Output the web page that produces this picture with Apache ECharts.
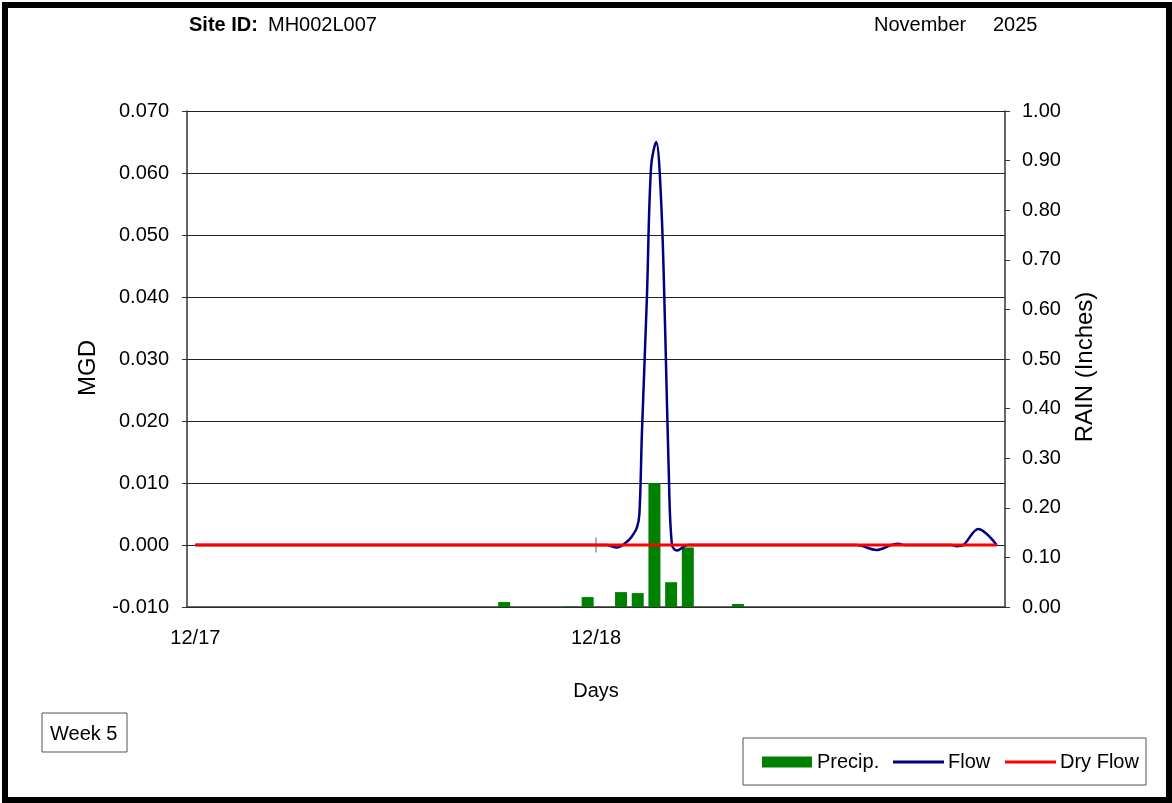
<!DOCTYPE html>
<html>
<head>
<meta charset="utf-8">
<title>MH002L007 - Week 5</title>
<script src="https://cdn.jsdelivr.net/npm/echarts@6/dist/echarts.min.js"></script>
<style>
  html, body { margin: 0; padding: 0; background: #fff; }
  #chart { width: 1172px; height: 803px; }
</style>
</head>
<body>
<div id="chart"></div>
<script>
// Hourly rainfall (inches), positioned by hour from 12/17 00:00
const rainHours  = [18.5, 22.5, 23.5, 25.5, 26.5, 27.5, 28.5, 29.5, 32.5];
const rainInches = [0.01, 0.001, 0.02, 0.03, 0.028, 0.25, 0.05, 0.12, 0.006];

// Measured flow (MGD) by hour from 12/17 00:00
const flowHours = [0, 24.6, 25.25, 25.8, 26.1, 26.45, 26.6, 26.75, 27.05, 27.3, 27.6,
                   27.9, 28.15, 28.35, 28.55, 28.85, 29.3, 29.5, 39.6, 40.8, 41.7,
                   42.1, 42.5, 45.3, 45.6, 46.0, 46.9, 48];
const flowMGD   = [0, 0, -0.0004, 0.0004, 0.0012, 0.0028, 0.005, 0.018, 0.040, 0.061, 0.065,
                   0.0556, 0.034, 0.0126, 0.0, -0.0009, -0.0002, 0, 0, -0.0008, 0,
                   0.0002, 0, 0, -0.0002, 0, 0.0026, 0];

// Dry-weather baseline flow (MGD)
const dryHours = [0, 48];
const dryMGD   = [0, 0];

// Day labels on the time axis
const dayTickHours  = [0, 24];
const dayTickLabels = ['12/17', '12/18'];

const FONT = '"Liberation Sans", Arial, sans-serif';
const zip = (xs, ys) => xs.map((x, i) => [x, ys[i]]);

const chart = echarts.init(document.getElementById('chart'), null, { renderer: 'canvas' });

// Legend key drawn as plain shapes: a bar swatch and two line swatches
const legendY = 762;
const legendKeys = [
  { kind: 'bar',  x: 762,  label: 'Precip.',  color: '#008000' },
  { kind: 'line', x: 893,  label: 'Flow',     color: '#000080' },
  { kind: 'line', x: 1005, label: 'Dry Flow', color: '#ff0000' }
];
const legendGraphics = [];
legendKeys.forEach((k) => {
  if (k.kind === 'bar') {
    legendGraphics.push({
      type: 'rect', silent: true,
      shape: { x: k.x, y: legendY - 5.5, width: 50, height: 11 },
      style: { fill: k.color }
    });
  } else {
    legendGraphics.push({
      type: 'line', silent: true,
      shape: { x1: k.x, y1: legendY, x2: k.x + 51, y2: legendY },
      style: { stroke: k.color, lineWidth: 3 }
    });
  }
  legendGraphics.push({
    type: 'text', silent: true, x: k.x + 55, y: legendY,
    style: { text: k.label, font: '20px ' + FONT, fill: '#000', verticalAlign: 'middle' }
  });
});

chart.setOption({
  animation: false,
  backgroundColor: '#ffffff',
  textStyle: { fontFamily: FONT, color: '#000' },
  grid: { left: 187, right: 167, top: 111, bottom: 196, containLabel: false },
  xAxis: {
    type: 'value',
    min: -0.5,
    max: 48.5,
    name: 'Days',
    nameLocation: 'middle',
    nameGap: 74,
    nameTextStyle: { fontFamily: FONT, fontSize: 20, color: '#000' },
    axisLine: { onZero: false, lineStyle: { color: '#333', width: 1.5 } },
    axisTick: { show: false },
    splitLine: { show: false },
    axisLabel: {
      customValues: dayTickHours,
      margin: 21,
      fontFamily: FONT,
      fontSize: 20,
      color: '#000',
      formatter: (v) => {
        const i = dayTickHours.indexOf(v);
        return i >= 0 ? dayTickLabels[i] : '';
      }
    }
  },
  yAxis: [
    {
      type: 'value',
      min: -0.01,
      max: 0.07,
      interval: 0.01,
      axisLine: { show: true, onZero: false, lineStyle: { color: '#333', width: 1.5 } },
      axisTick: { show: true, inside: false, length: 5, lineStyle: { color: '#333' } },
      splitLine: { show: true, lineStyle: { color: '#222', width: 1 } },
      axisLabel: {
        margin: 18,
        fontFamily: FONT,
        fontSize: 20,
        color: '#000',
        formatter: (v) => v.toFixed(3)
      }
    },
    {
      type: 'value',
      position: 'right',
      min: 0,
      max: 1,
      interval: 0.1,
      axisLine: { show: true, onZero: false, lineStyle: { color: '#333', width: 1.5 } },
      axisTick: { show: true, inside: false, length: 5, lineStyle: { color: '#333' } },
      splitLine: { show: false },
      axisLabel: {
        margin: 17,
        fontFamily: FONT,
        fontSize: 20,
        color: '#000',
        formatter: (v) => v.toFixed(2)
      }
    }
  ],
  series: [
    {
      name: 'Precip.',
      type: 'bar',
      yAxisIndex: 1,
      barWidth: 12,
      itemStyle: { color: '#008000' },
      data: zip(rainHours, rainInches),
      z: 2
    },
    {
      // day marker crossing the zero-flow line
      name: 'dayMark',
      type: 'scatter',
      yAxisIndex: 0,
      symbol: 'rect',
      symbolSize: [1.2, 15],
      itemStyle: { color: '#555' },
      silent: true,
      data: [[dayTickHours[1], 0]],
      z: 3
    },
    {
      name: 'Flow',
      type: 'line',
      yAxisIndex: 0,
      smooth: 0.35,
      showSymbol: false,
      symbol: 'none',
      lineStyle: { color: '#000080', width: 2.5 },
      itemStyle: { color: '#000080' },
      data: zip(flowHours, flowMGD),
      z: 4
    },
    {
      name: 'Dry Flow',
      type: 'line',
      yAxisIndex: 0,
      showSymbol: false,
      symbol: 'none',
      lineStyle: { color: '#ff0000', width: 3 },
      itemStyle: { color: '#ff0000' },
      data: zip(dryHours, dryMGD),
      z: 5
    }
  ],
  graphic: [
    {
      type: 'rect',
      shape: { x: 5, y: 5, width: 1164, height: 795 },
      style: { fill: null, stroke: '#000', lineWidth: 6 },
      silent: true
    },
    {
      type: 'text', left: 189, top: 15,
      style: { text: 'Site ID:', font: 'bold 20px ' + FONT, fill: '#000' }
    },
    {
      type: 'text', left: 268, top: 15,
      style: { text: 'MH002L007', font: '20px ' + FONT, fill: '#000' }
    },
    {
      type: 'text', left: 874, top: 15,
      style: { text: 'November', font: '20px ' + FONT, fill: '#000' }
    },
    {
      type: 'text', left: 993, top: 15,
      style: { text: '2025', font: '20px ' + FONT, fill: '#000' }
    },
    {
      // left axis title
      type: 'text', silent: true, x: 88, y: 368, rotation: Math.PI / 2,
      style: { text: 'MGD', font: '24px ' + FONT, fill: '#000', align: 'center', verticalAlign: 'middle' }
    },
    {
      // right axis title
      type: 'text', silent: true, x: 1085, y: 367, rotation: Math.PI / 2,
      style: { text: 'RAIN (Inches)', font: '24px ' + FONT, fill: '#000', align: 'center', verticalAlign: 'middle' }
    },
    {
      type: 'rect',
      shape: { x: 42, y: 713, width: 85, height: 39 },
      style: { fill: '#fff', stroke: '#555', lineWidth: 1 },
      silent: true
    },
    {
      type: 'text', left: 50, top: 724,
      style: { text: 'Week 5', font: '20px ' + FONT, fill: '#000' }
    },
    {
      type: 'rect',
      shape: { x: 743, y: 738, width: 403, height: 47 },
      style: { fill: null, stroke: '#555', lineWidth: 1 },
      silent: true
    }
  ].concat(legendGraphics)
});
</script>
</body>
</html>
